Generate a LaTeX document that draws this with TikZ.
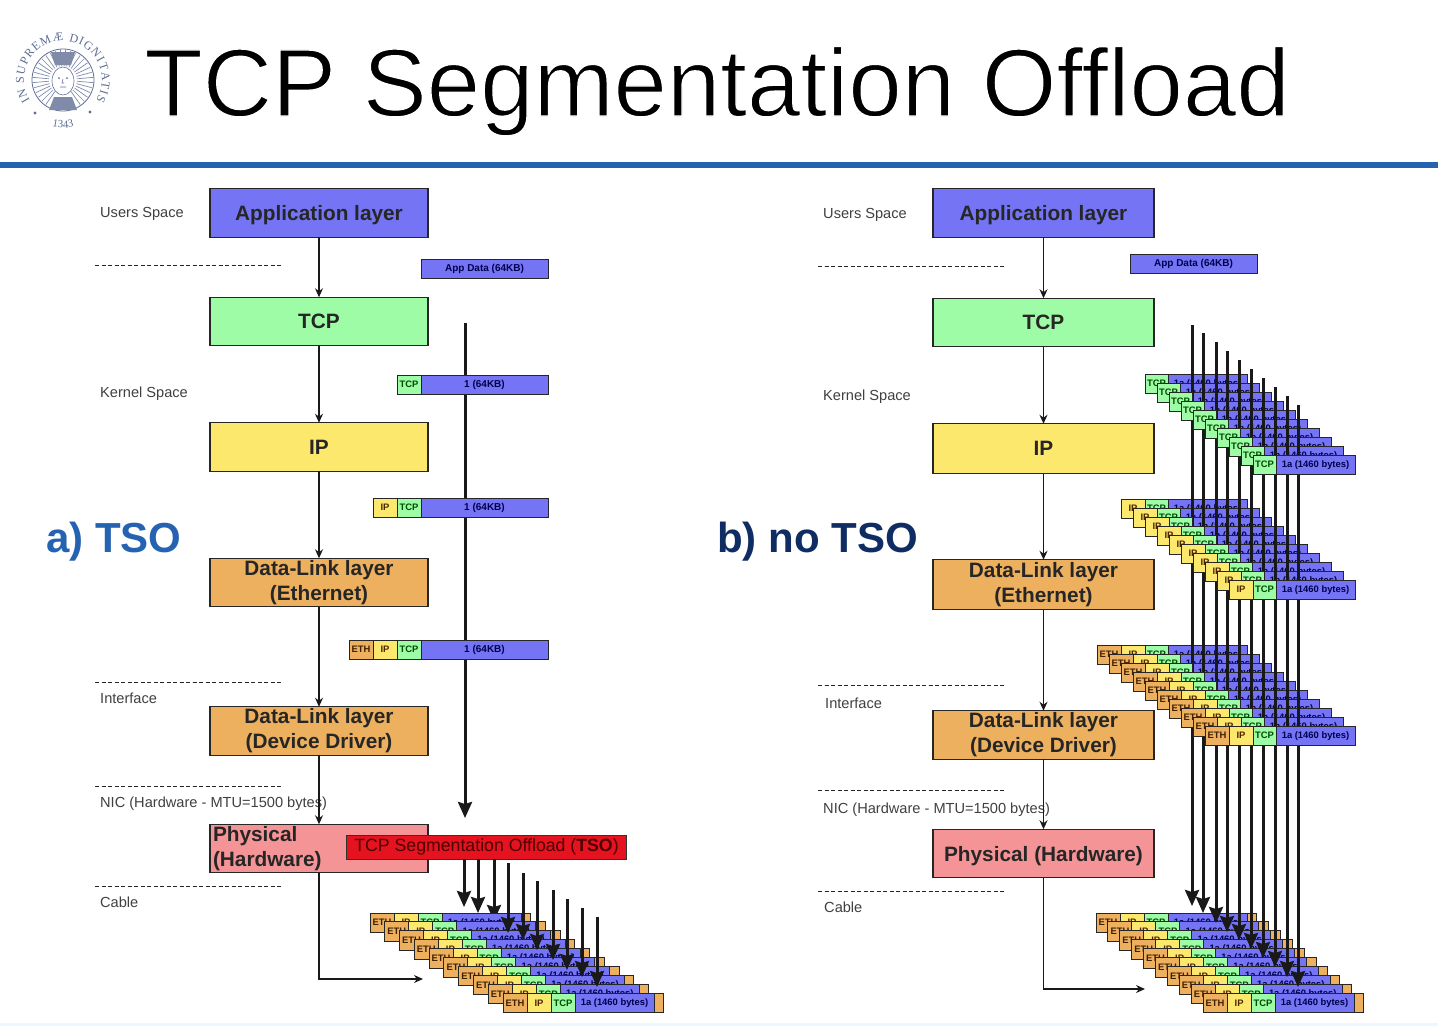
\documentclass[tikz,border=0pt]{standalone}
\usepackage{fontspec}
\setmainfont{Liberation Sans}
\newfontfamily\sealfont{Liberation Serif}
\newfontfamily\titlefont[Ligatures=NoCommon]{Liberation Sans}
\usepackage{tikz}
\usetikzlibrary{arrows.meta, positioning, decorations.text}
\definecolor{appblue}{HTML}{7474F4}
\definecolor{tcpgreen}{HTML}{9EFBA6}
\definecolor{ipyellow}{HTML}{FCE86C}
\definecolor{ethorange}{HTML}{EDB05F}
\definecolor{phypink}{HTML}{F59496}
\definecolor{tsored}{HTML}{E5121F}
\definecolor{rulecol}{HTML}{2563B2}
\definecolor{navycol}{HTML}{0F2D63}
\definecolor{sealcol}{HTML}{5F6E94}

\begin{document}
\begin{tikzpicture}[x=1pt, y=-1pt,
  layer/.style = {draw=black!85, line width=1.3pt, outer sep=0pt, inner sep=0pt, minimum height=48.5pt,
                  align=center, font=\fontsize{20.8}{25}\selectfont\bfseries, text=black!85},
  seglbl/.style = {font=\fontsize{14.6}{17}\selectfont, text=black!75, anchor=base west},
  sep/.style   = {dash pattern=on 4pt off 2.5pt, line width=0.9pt, draw=black!85},
  arr/.style   = {-{Stealth[length=9pt, width=8pt]}, line width=1.3pt, draw=black!90},
  segarr/.style = {-{Stealth[length=16pt, width=14pt, inset=2pt]}, line width=3pt, draw=black!90},
  seg/.style   = {draw=black!85, line width=1pt, outer sep=0pt, inner sep=0pt, minimum height=19.5pt,
                  font=\fontsize{9.4}{10}\selectfont\bfseries},
  pethbox/.style  = {seg, fill=ethorange, minimum width=24pt, text=black!75!orange},
  pipbox/.style   = {seg, fill=ipyellow, minimum width=24pt, text=black!70!orange},
  ptcpbox/.style  = {seg, fill=tcpgreen, minimum width=24pt, text=black!70!green},
  pdatabox/.style = {seg, fill=appblue, minimum width=79pt, text=blue!30!black},
  ptailbox/.style = {seg, fill=ethorange, minimum width=9.5pt},
  bigdata/.style  = {pdatabox, minimum width=127pt, font=\fontsize{10}{11}\selectfont\bfseries, anchor=north west},
]
% ── Page and title ───────────────────────────────────────────────────────────
\useasboundingbox (0,0) rectangle (1438,1026);
\fill[white] (0,0) rectangle (1438,1026);
\fill[cyan!8] (0,1023) rectangle (1438,1026);
\node[anchor=base west, inner sep=0pt, font=\fontsize{96}{100}\titlefont] (title) at (144,116)
    {\special{pdf:code q 2 Tr 1.4 w 1 1 1 RG}TCP Segmentation Offload\special{pdf:code Q}};
\coordinate (ruleL) at (0,165);
\coordinate (ruleR) at (1438,165);
\draw[rulecol, line width=6pt] (ruleL) -- (ruleR);

% ── Seal ─────────────────────────────────────────────────────────────────────
\begin{scope}[shift={(63,80)}, x=1pt, y=1pt]
  \path[decorate, decoration={text along path, text align={fit to path},
        text={|\sealfont\fontsize{12}{12}\selectfont\color{sealcol}|IN SUPREMÆ DIGNITATIS}}]
      (-148:39) arc[start angle=-148, end angle=-392, radius=39];
  \path[decorate, decoration={text along path, text align=center,
        text={|\sealfont\fontsize{11}{12}\selectfont\color{sealcol}|1343}}]
      (-115:48) arc[start angle=-115, end angle=-65, radius=48];
  \fill[sealcol] (-28,-33) circle (1.6);
  \fill[sealcol] (27,-32) circle (1.6);
  \draw[sealcol, line width=0.8pt] (0,0) circle (31);
  \foreach \a in {-55,-45,...,235}
    \draw[sealcol!80, line width=0.7pt] (\a:14) -- (\a:30);
  \fill[white] (0,-1) ellipse (11 and 14);
  \draw[sealcol, line width=0.6pt] (0,-1) ellipse (11 and 14);
  \fill[sealcol] (-4,2) circle (1);
  \fill[sealcol] (4,2) circle (1);
  \draw[sealcol, line width=0.6pt] (0,1) -- (-1,-3) -- (1,-3) (-3,-7) -- (3,-7);
  \fill[sealcol!80] (-12,28) -- (12,28) -- (8,15) -- (-8,15) -- cycle;
  \fill[sealcol!80] (-14,-30) -- (14,-30) -- (9,-17) -- (-9,-17) -- cycle;
\end{scope}

% ── Side titles ──────────────────────────────────────────────────────────────
\node[anchor=base west, inner sep=0pt, font=\fontsize{42}{44}\selectfont\bfseries, text=rulecol] (tsoT) at (46,552) {a) TSO};
\node[anchor=base west, inner sep=0pt, font=\fontsize{42}{44}\selectfont\bfseries, text=navycol] (notsoT) at (717,552) {b) no TSO};

% ── Zone labels and separators ───────────────────────────────────────────────
\foreach \x/\y/\t in {100/217/Users Space, 100/397/Kernel Space, 100/703/Interface,
                      100/807/{NIC (Hardware - MTU=1500 bytes)}, 100/907/Cable,
                      823/218/Users Space, 823/400/Kernel Space, 825/708/Interface,
                      823/813/{NIC (Hardware - MTU=1500 bytes)}, 824/912/Cable}
  \node[seglbl, inner sep=0pt] at (\x,\y) {\t};

\foreach \n/\x/\y in {a/95/265, b/95/682, c/95/786, d/95/886,
                      e/818/266, f/818/685, g/818/790, h/818/891} {
  \coordinate (sep\n) at (\x,\y);
  \draw[sep] (sep\n) -- ++(186,0);
}

% ── Left column: layers ──────────────────────────────────────────────────────
\node[layer, fill=appblue, minimum width=218pt, text depth=0pt] (appL) at (319,213) {Application layer};
\node[layer, fill=tcpgreen, minimum width=218pt, below=60pt of appL] (tcpL) {TCP};
\node[layer, fill=ipyellow, minimum width=218pt, below=77pt of tcpL] (ipL) {IP};
\node[layer, fill=ethorange, minimum width=218pt, below=87pt of ipL] (dlL) {Data-Link layer\\(Ethernet)};
\node[layer, fill=ethorange, minimum width=218pt, below=100pt of dlL] (ddL) {Data-Link layer\\(Device Driver)};
\node[layer, fill=phypink, align=left, text width=212pt, inner xsep=3pt, below=69pt of ddL] (phyL)
    {Physical\\(Hardware)};
\node[draw=black!80, line width=1pt, fill=tsored, minimum width=280pt, minimum height=24pt, inner sep=0pt, text=red!30!black,
      font=\fontsize{17.7}{19}\selectfont] (tso) at (486.5,847) {TCP Segmentation Offload (\textbf{TSO})};

\foreach \a/\b in {appL/tcpL, tcpL/ipL, ipL/dlL, dlL/ddL, ddL/phyL}
  \draw[arr] (\a) -- (\b);
\coordinate (cableL) at (423,979);
\draw[arr] (phyL.south) |- (cableL);

% ── Left column: one big segment ─────────────────────────────────────────────
\coordinate (bigtop) at (465,323);
\coordinate (bigend) at (465,818);
\draw[segarr] (bigtop) -- (bigend);

\node[bigdata] (appdataL) at (421,259) {App Data (64KB)};
\node[bigdata] (dataA) at (421,375) {1 (64KB)};
\node[ptcpbox, left=0pt of dataA] (tcpA) {TCP};
\node[bigdata] (dataB) at (421,498) {1 (64KB)};
\node[ptcpbox, left=0pt of dataB] (tcpB) {TCP};
\node[pipbox, left=0pt of tcpB] (ipB) {IP};
\node[bigdata] (dataC) at (421,640) {1 (64KB)};
\node[ptcpbox, left=0pt of dataC] (tcpC) {TCP};
\node[pipbox, left=0pt of tcpC] (ipC) {IP};
\node[pethbox, left=0pt of ipC] (ethC) {ETH};

% ── Left column: segments on the cable ───────────────────────────────────────
\coordinate (cutS) at (494,859);
\coordinate (cutE) at (494,921);
\draw[segarr] (cutS) -- (cutE);

\foreach \s/\xo/\dx in {L/370/14.78, R/1096/11.9} {
  \foreach \i in {0,...,9} {
    \node[pethbox, anchor=north west] (eth\s\i) at (\xo+\dx*\i,913+8.9*\i) {ETH};
    \node[pipbox,  right=0pt of eth\s\i] (ip\s\i)   {IP};
    \node[ptcpbox, right=0pt of ip\s\i]  (tcp\s\i)  {TCP};
    \node[pdatabox, right=0pt of tcp\s\i] (data\s\i) {1a (1460 bytes)};
    \node[ptailbox, right=0pt of data\s\i] (tail\s\i) {};
  }
}

\foreach \n/\x/\t/\e in {a/464/859/907, b/478/859/913, d/508/863/933, e/523/873/940, f/537/881/950,
                         g/553/890/960, h/567/899/970, i/582/908/977, j/597/917/987} {
  \coordinate (cutS\n) at (\x,\t);
  \coordinate (cutE\n) at (\x,\e);
  \draw[segarr] (cutS\n) -- (cutE\n);
}

% ── Right column: layers ─────────────────────────────────────────────────────
\node[layer, fill=appblue, minimum width=221pt, text depth=0pt] (appR) at (1043.5,213) {Application layer};
\node[layer, fill=tcpgreen, minimum width=221pt, below=61pt of appR] (tcpR) {TCP};
\node[layer, fill=ipyellow, minimum width=221pt, minimum height=50pt, below=77pt of tcpR] (ipR) {IP};
\node[layer, fill=ethorange, minimum width=221pt, minimum height=50pt, below=86pt of ipR] (dlR) {Data-Link layer\\(Ethernet)};
\node[layer, fill=ethorange, minimum width=221pt, below=101pt of dlR] (ddR) {Data-Link layer\\(Device Driver)};
\node[layer, fill=phypink, minimum width=221pt, text depth=0pt, below=70pt of ddR] (phyR) {Physical (Hardware)};

\foreach \a/\b in {appR/tcpR, tcpR/ipR, ipR/dlR, dlR/ddR, ddR/phyR}
  \draw[arr] (\a) -- (\b);
\coordinate (cableR) at (1145,989);
\draw[arr] (phyR.south) |- (cableR);

\node[bigdata] (appdataR) at (1130,254) {App Data (64KB)};

% ── Right column: stacks of segments ─────────────────────────────────────────
\foreach \s/\yo in {T/374, I/499, E/645} {
  \foreach \i in {0,...,8}
    \node[pdatabox, anchor=north west] (data\s\i) at (1168+12*\i,\yo+9*\i) {1a (1460 bytes)};
}

\foreach \n/\x/\t/\e in {a/1192/325/906, b/1203/333/913, c/1216/342/923, d/1227/351/932, e/1239/360/940,
                         f/1251/369/949, g/1263/378/958, h/1275/387/967, i/1287/396/977, j/1298/405/987} {
  \coordinate (segS\n) at (\x,\t);
  \coordinate (segE\n) at (\x,\e);
  \draw[segarr] (segS\n) -- (segE\n);
}

\foreach \s/\yo in {T/374, I/499, E/645}
  \node[pdatabox, anchor=north west] (data\s9) at (1276,\yo+81) {1a (1460 bytes)};
\foreach \s in {T,I,E} {
  \foreach \i in {0,...,9}
    \node[ptcpbox, minimum width=23pt, anchor=north east] (tcp\s\i) at (data\s\i.north west) {TCP};
}
\foreach \s in {I,E} {
  \foreach \i in {0,...,9}
    \node[pipbox, left=0pt of tcp\s\i] (ip\s\i) {IP};
}
\foreach \i in {0,...,9}
  \node[pethbox, left=0pt of ipE\i] (ethE\i) {ETH};

\end{tikzpicture}
\end{document}
